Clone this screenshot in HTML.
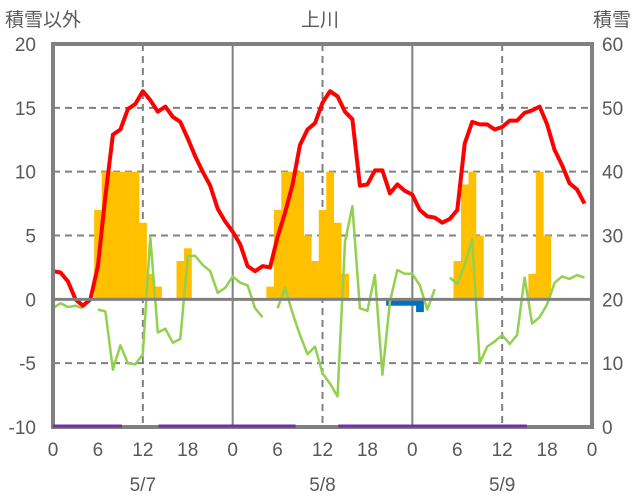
<!DOCTYPE html>
<html><head><meta charset="utf-8"><style>
body{margin:0;background:#fff;width:636px;height:501px;overflow:hidden}
svg{display:block;font-family:"Liberation Sans","Noto Sans CJK JP",sans-serif}
</style></head><body>
<svg id="chart" width="636" height="501">
<text x="5" y="26" font-size="19" fill="#595959">積雪以外</text>
<text x="320" y="26" font-size="19" fill="#595959" text-anchor="middle">上川</text>
<text x="631" y="26" font-size="19" fill="#595959" text-anchor="end">積雪</text>
<g id="grid"></g><g id="marks"></g><g id="axes"></g>
</svg>
<script>
const hours = Array.from({length:73},(_,i)=>i);
const leftTicks = [20,15,10,5,0,-5,-10];
const rightTicks = [60,50,40,30,20,10,0];
const xTickLabels = ['0','6','12','18','0','6','12','18','0','6','12','18','0'];
const dateLabels = ['5/7','5/8','5/9'];
const tempValues = [2.2,2.1,1.4,0,-0.5,0,2.6,8.1,12.9,13.3,14.9,15.3,16.3,15.6,14.7,15.1,14.3,13.9,12.6,11.2,10.0,8.9,7.1,6.1,5.3,4.3,2.6,2.2,2.6,2.5,4.9,6.8,9.0,12.1,13.3,13.8,15.4,16.3,15.9,14.7,14.1,8.9,9.0,10.1,10.1,8.3,9.0,8.5,8.2,7.0,6.5,6.4,6.0,6.3,7.0,12.2,13.9,13.7,13.7,13.3,13.5,14.0,14.0,14.6,14.8,15.1,13.7,11.7,10.5,9.1,8.6,7.5,null];
const greenValues = [-0.7,-0.3,-0.6,-0.5,-0.7,null,-0.8,-0.95,-5.5,-3.6,-5.0,-5.1,-4.3,4.9,-2.6,-2.3,-3.4,-3.1,3.4,3.4,2.7,2.2,0.5,0.9,1.8,1.3,1.1,-0.7,-1.4,null,-0.7,0.9,-1.1,-2.8,-4.3,-3.7,-5.8,-6.6,-7.6,4.5,7.3,-0.7,-0.9,1.9,-5.9,-0.2,2.3,2.0,2.0,1.1,-0.8,0.8,null,1.7,1.2,2.7,4.7,-5.0,-3.7,-3.3,-2.8,-3.5,-2.8,1.7,-1.9,-1.4,-0.4,1.3,1.8,1.6,1.9,1.7,null];
const snowBarHours = [6,7,8,9,10,11,12,13,14,17,18,29,30,31,32,33,34,35,36,37,38,39,54,55,56,57,64,65,66];
const snowBarValues = [7,10,10,10,10,10,6,2,1,3,4,1,7,10,10,10,5,3,7,10,6,2,3,9,10,5,2,10,5];
const blueBarHours = [45,46,47,48,49];
const blueBarValues = [-0.5,-0.5,-0.5,-0.5,-1.0];
const purpleSegments = [[0,9.2],[14.1,32.4],[38.1,63.3]];
const purpleValue = -10;

const L=53,R=592,T=44,B=427,yMin=-10,yMax=20,hMax=72;
const x=h=>L+(R-L)*h/hMax;
const y=v=>B-(B-T)*(v-yMin)/(yMax-yMin);
const NS='http://www.w3.org/2000/svg';
function mk(tag,attrs,parent){const e=document.createElementNS(NS,tag);for(const k in attrs)e.setAttribute(k,attrs[k]);parent.appendChild(e);return e;}
const grid=document.getElementById('grid'),marks=document.getElementById('marks'),axes=document.getElementById('axes');

[15,10,5,-5].forEach(v=>{const l=mk('line',{x1:L,x2:R,y1:y(v),y2:y(v),stroke:'#808080','stroke-width':2,'stroke-dasharray':'7,5'},grid);

});
[12,36,60].forEach(h=>{const l=mk('line',{x1:x(h),x2:x(h),y1:T,y2:B,stroke:'#808080','stroke-width':2,'stroke-dasharray':'7,5'},grid);

});
[24,48].forEach(h=>{const l=mk('line',{x1:x(h),x2:x(h),y1:T,y2:B,stroke:'#808080','stroke-width':2},grid);

});

const bw=x(1)-x(0);
snowBarHours.forEach((h,i)=>{const v=snowBarValues[i];const r=mk('rect',{x:x(h)-bw/2,y:y(v),width:bw+0.3,height:y(0)-y(v),fill:'#FFC000'},marks);

});
blueBarHours.forEach((h,i)=>{const v=blueBarValues[i];const r=mk('rect',{x:x(h)-bw/2,y:y(0),width:bw+0.3,height:y(v)-y(0),fill:'#0070C0'},marks);

});

const zl=mk('line',{x1:L,x2:R,y1:y(0),y2:y(0),stroke:'#808080','stroke-width':3},grid.parentNode.insertBefore(document.createElementNS(NS,'g'),axes));



function pathFrom(vals){let d='',pen=false;vals.forEach((v,h)=>{if(v===null){pen=false;return;}d+=(pen?'L':'M')+x(h).toFixed(1)+','+y(v).toFixed(1);pen=true;});return d;}
const g=mk('path',{d:pathFrom(greenValues),fill:'none',stroke:'#92D050','stroke-width':2.5,'stroke-linejoin':'round'},marks);


const rl=mk('path',{d:pathFrom(tempValues),fill:'none',stroke:'#FF0000','stroke-width':4,'stroke-linejoin':'round'},marks);



const fr=mk('rect',{x:L,y:T,width:R-L,height:B-T,fill:'none',stroke:'#808080','stroke-width':4},axes);


purpleSegments.forEach(s=>{const l=mk('line',{x1:x(s[0]),x2:x(s[1]),y1:y(purpleValue)-1,y2:y(purpleValue)-1,stroke:'#7030A0','stroke-width':3},axes);

});

leftTicks.forEach(v=>{const t=mk('text',{x:36,y:y(v)+7,'font-size':19,fill:'#595959','text-anchor':'end'},axes);t.textContent=v;

});
rightTicks.forEach((v,i)=>{const t=mk('text',{x:602,y:y(leftTicks[i])+7,'font-size':19,fill:'#595959'},axes);t.textContent=v;

});
xTickLabels.forEach((s,i)=>{const t=mk('text',{x:x(i*6),y:456,'font-size':19,fill:'#595959','text-anchor':'middle'},axes);t.textContent=s;

});
dateLabels.forEach((s,i)=>{const t=mk('text',{x:x(12+24*i),y:491,'font-size':19,fill:'#595959','text-anchor':'middle'},axes);t.textContent=s;

});
</script>
</body></html>
